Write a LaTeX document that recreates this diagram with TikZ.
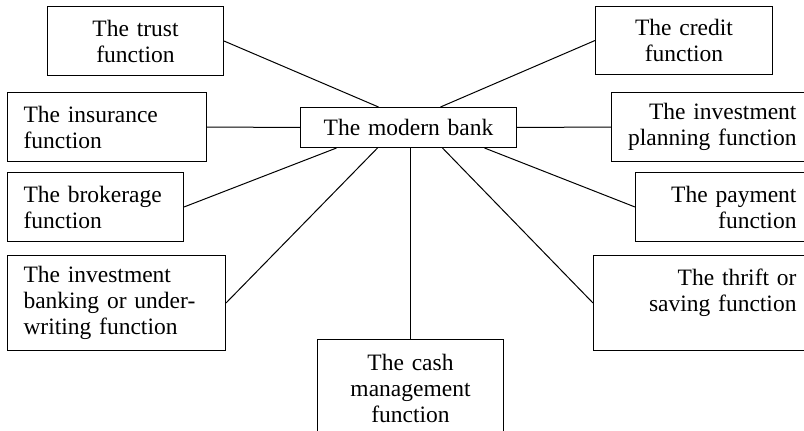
\documentclass[tikz,border=0pt]{standalone}
\usepackage{fontspec}
\setmainfont{Liberation Serif}
\usetikzlibrary{positioning}

\begin{document}
\begin{tikzpicture}[x=1pt,y=-1pt,line width=1pt,
  func/.style = {shape=rectangle, draw, anchor=north west, inner ysep=0pt, font=\fontsize{23.5}{26}\selectfont},
  lft/.style = {func, align=left, inner xsep=16pt},
  rgt/.style = {func, align=right, inner xsep=16pt},
  mid/.style = {func, align=center, inner xsep=8pt}]
  \useasboundingbox (0,0) rectangle (804,431);
  \clip (0,0) rectangle (804,431);

  \node (bank) [mid, text width=200pt, minimum height=40pt] at (300,107) {The modern bank};

  \node (trust) [mid, text width=160pt, minimum height=69pt] at (47,6) {The trust\\function};
  \node (credit) [mid, text width=161pt, minimum height=68pt] at (595,6) {The credit\\function};
  \node (insurance) [lft, text width=167pt, minimum height=69pt] at (7,92) {The insurance\\function};
  \node (planning) [rgt, text width=169pt, minimum height=69pt] at (611,92) {The investment\\planning function};
  \node (brokerage) [lft, text width=144pt, minimum height=69pt] at (7,172) {The brokerage\\function};
  \node (payment) [rgt, text width=145pt, minimum height=69pt] at (635,172) {The payment\\function};
  \node (underwriting) [lft, text width=186pt, minimum height=95pt] at (7,255) {The investment\\banking or under-\\writing function};
  \node (thrift) [rgt, text width=187pt, minimum height=95pt] at (593,255) {The thrift or\\saving function\\~};
  \node (cash) [mid, text width=170pt, minimum height=97pt] at (317,339) {The cash\\management\\function};

  \draw (trust.east) -- ([xshift=-30pt]bank.north);
  \draw (credit.west) -- ([xshift=32pt]bank.north);
  \draw (insurance.east) -- (bank.west);
  \draw (planning.west) -- (bank.east);
  \draw (brokerage.east) -- ([xshift=-72pt]bank.south);
  \draw (payment.west) -- ([xshift=76pt]bank.south);
  \draw (underwriting.east) -- ([xshift=-31pt]bank.south);
  \draw (thrift.west) -- ([xshift=34pt]bank.south);
  \draw (cash.north |- bank.south) -- (cash.north);
\end{tikzpicture}
\end{document}
